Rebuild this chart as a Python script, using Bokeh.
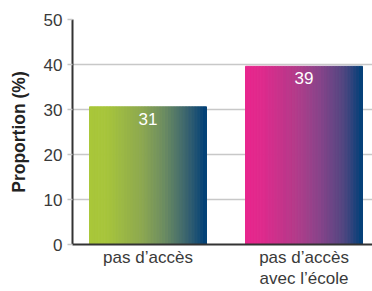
from bokeh.plotting import figure
from bokeh.models import Range1d, FixedTicker, ColumnDataSource
from bokeh.embed import file_html
from bokeh.resources import INLINE
from bokeh.core.properties import value

# ---- data ----
categories = ["pas d\u2019acc\u00e8s", "pas d\u2019acc\u00e8s\navec l\u2019\u00e9cole"]
values = [30.6, 39.6]
labels = ["31", "39"]
yticks = [0, 10, 20, 30, 40, 50]

# ---- style ----
stops = [
    [(0.0, "#A9C73A"), (0.15, "#A7C53B"), (0.45, "#8DA850"), (0.65, "#6A8B62"), (0.85, "#35606F"), (1.0, "#003F78")],
    [(0.0, "#E9268E"), (0.15, "#DE2A8C"), (0.45, "#B03C8A"), (0.65, "#85448A"), (0.85, "#4E4680"), (1.0, "#003F78")],
]
BAR_W = 0.75
NSTRIP = 40
FONT = "Liberation Sans"


def hex2rgb(h):
    h = h.lstrip("#")
    return tuple(int(h[i:i + 2], 16) for i in (0, 2, 4))


def interp(st, t):
    for (t0, c0), (t1, c1) in zip(st[:-1], st[1:]):
        if t0 <= t <= t1:
            f = (t - t0) / (t1 - t0) if t1 > t0 else 0
            a, b = hex2rgb(c0), hex2rgb(c1)
            return "#%02x%02x%02x" % tuple(round(a[k] + (b[k] - a[k]) * f) for k in range(3))
    return st[-1][1]


centers = [i + 0.5 for i in range(len(categories))]

p = figure(width=372, height=291, output_backend="svg", toolbar_location=None,
           x_range=Range1d(0.016, 1.939), y_range=Range1d(0, 50),
           min_border_left=72, min_border_right=0, min_border_top=19, min_border_bottom=46)
p.outline_line_color = None
p.background_fill_color = "white"

# gradient bars drawn as thin vertical strips
xs, tops, ws, cols = [], [], [], []
sw = BAR_W / NSTRIP
for ci, (c, v) in enumerate(zip(centers, values)):
    for i in range(NSTRIP):
        xs.append(c - BAR_W / 2 + (i + 0.5) * sw)
        tops.append(v)
        ws.append(sw)
        cols.append(interp(stops[ci], (i + 0.5) / NSTRIP))
src = ColumnDataSource(dict(x=xs, top=tops, w=ws, c=cols))
p.vbar(x="x", top="top", width="w", bottom=0, fill_color="c", line_color="c",
       line_width=1, source=src)

p.text(x=centers, y=values, text=labels, text_color="white", text_font=value(FONT),
       text_font_size="17px", text_align="center", text_baseline="middle", y_offset=12)

# axes
p.xgrid.grid_line_color = None
p.ygrid.grid_line_color = "#c8c8c8"
p.ygrid.grid_line_width = 1.5
p.ygrid.ticker = FixedTicker(ticks=yticks)

p.yaxis.ticker = FixedTicker(ticks=yticks)
p.yaxis.axis_line_color = "#333333"
p.yaxis.axis_line_width = 2
p.yaxis.major_tick_line_color = "#c8c8c8"
p.yaxis.major_tick_line_width = 1.5
p.yaxis.major_tick_out = 5
p.yaxis.major_tick_in = 0
p.yaxis.minor_tick_line_color = None
p.yaxis.major_label_text_font = FONT
p.yaxis.major_label_text_font_size = "17px"
p.yaxis.major_label_text_color = "#3a3a3a"
p.yaxis.major_label_standoff = 5
p.yaxis.axis_label = "Proportion (%)"
p.yaxis.axis_label_text_font = FONT
p.yaxis.axis_label_text_font_style = "bold"
p.yaxis.axis_label_text_font_size = "17.5px"
p.yaxis.axis_label_text_color = "#222222"
p.yaxis.axis_label_standoff = 12

p.xaxis.ticker = FixedTicker(ticks=centers)
p.xaxis.major_label_overrides = {c: lab for c, lab in zip(centers, categories)}
p.xaxis.axis_line_color = "#333333"
p.xaxis.axis_line_width = 2
p.xaxis.major_tick_line_color = None
p.xaxis.minor_tick_line_color = None
p.xaxis.major_tick_out = 0
p.xaxis.major_label_text_font = FONT
p.xaxis.major_label_text_font_size = "17px"
p.xaxis.major_label_text_line_height = 1.15
p.xaxis.major_label_text_color = "#3a3a3a"
p.xaxis.major_label_standoff = 3

open("out.html", "w").write(file_html(p, INLINE))
